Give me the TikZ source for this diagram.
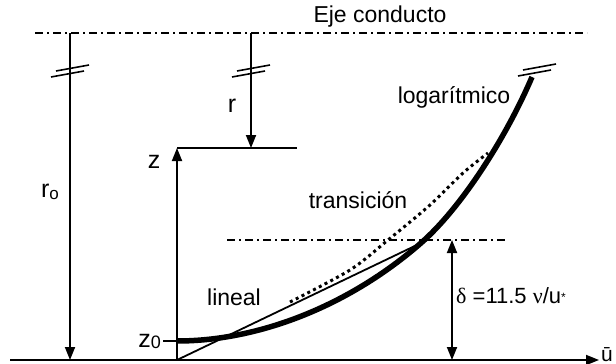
\documentclass[tikz,border=0pt]{standalone}
\usepackage{fontspec}
\setmainfont{Liberation Sans}
\newfontfamily\grk{Liberation Serif}
\usetikzlibrary{arrows.meta,positioning}
\tikzset{
  fine/.style={line width=1.8pt},
  eje/.style={line width=1.5pt, dash pattern=on 8pt off 4pt on 2pt off 4pt},
  arr/.style={-{Triangle[length=13pt,width=10pt]}},
  lbl/.style={inner sep=0pt, font=\fontsize{23}{26}\selectfont},
  big/.style={inner sep=0pt, font=\fontsize{25}{28}\selectfont},
  brk/.pic={\draw[line width=1.6pt] (-14,0) -- (19,-6) (-19,6) -- (14,0);}
}
\begin{document}
\begin{tikzpicture}[x=1pt,y=-1pt]
\useasboundingbox (0,0) rectangle (616,364);
% puntos
\coordinate (ejeL) at (35,33);
\coordinate (ejeR) at (587,33);
\coordinate (base) at (10,360);
\coordinate (O) at (177,360);
\coordinate (uend) at (599,360);
\coordinate (roTop) at (70,33);
\coordinate (roBot) at (70,360);
\coordinate (rTop) at (251,33);
\coordinate (rBot) at (251,148);
\coordinate (zTop) at (177,148);
\coordinate (zEnd) at (297,148);
\coordinate (z0) at (177,341);
\coordinate (z0tick) at (163,341);
\coordinate (dL) at (227,240);
\coordinate (dR) at (505,240);
\coordinate (dTop) at (452,240);
\coordinate (dBot) at (452,360);
\coordinate (tang) at (421,243);
\coordinate (top) at (532,77);
% ejes
\draw[eje] (ejeL) -- (ejeR);
\node[lbl] (ejetxt) at (380,17) {Eje conducto};
\draw[fine,arr] (base) -- (uend);
\node[lbl,anchor=base west,font=\fontsize{21}{24}\selectfont] (u) at (601,361) {ū};
\draw[fine,arr] (roTop) -- (roBot);
\node[big] (ro) at (50,192) {r\raisebox{-2pt}{\fontsize{17}{17}\selectfont o}};
\draw[fine,arr] (rTop) -- (rBot);
\node[big] (r) at (232,106) {r};
\draw[fine,arr] (O) -- (zTop);
\draw[fine] (zTop) -- (zEnd);
\node[big] (z) at (154,162) {z};
\draw[fine] (z0tick) -- (z0);
\node[big,left=2pt of z0tick] (z0txt) {z\raisebox{-1pt}{\fontsize{18}{18}\selectfont 0}};
\pic at (70,71) {brk};
\pic at (251,71) {brk};
\pic at (537,70) {brk};
% perfiles
\draw[line width=5.5pt] (z0) .. controls (260,341) and (350,305) .. (tang)
  .. controls (460,209) and (505,140) .. (top);
\draw[line width=3pt,dash pattern=on 3pt off 3.5pt] plot[smooth] coordinates {(290,302) (350,270) (388,240) (430,205) (463,173) (488,153)};
\draw[fine] (O) -- (tang);
\draw[eje] (dL) -- (dR);
\draw[fine,{Triangle[length=13pt,width=10pt]}-{Triangle[length=13pt,width=10pt]}] (dTop) -- (dBot);
% textos
\node[lbl] (log) at (454,97) {logarítmico};
\node[lbl] (trans) at (358,200) {transición};
\node[lbl] (lin) at (234,297) {lineal};
\node[lbl,anchor=west,font=\fontsize{22}{24}\selectfont] (delta) at (456,296) {{\grk δ} =11.5 {\grk ν}/u\raisebox{2pt}{\fontsize{12}{12}\selectfont *}};
\end{tikzpicture}
\end{document}
